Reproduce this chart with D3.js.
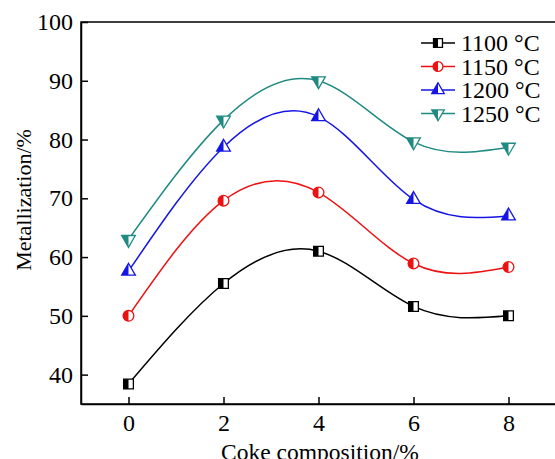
<!DOCTYPE html>
<html>
<head>
<meta charset="utf-8">
<script src="https://cdn.jsdelivr.net/npm/d3@7"></script>
<style>
  body { margin: 0; background: #fff; }
  svg text { font-family: "Liberation Serif", "Times New Roman", serif; fill: #000; }
</style>
</head>
<body>
<div id="chart"></div>
<script>
// data
var coke = [0, 2, 4, 6, 8];
var temps = ['1100 °C', '1150 °C', '1200 °C', '1250 °C'];
var met1100 = [38.4, 55.5, 61.0, 51.6, 50.0];
var met1150 = [50.0, 69.6, 71.0, 58.9, 58.3];
var met1200 = [57.6, 78.7, 83.9, 69.8, 67.0];
var met1250 = [63.0, 83.3, 90.0, 79.6, 78.7];
var xTicks = [0, 2, 4, 6, 8];
var yTicks = [40, 50, 60, 70, 80, 90, 100];

var width = 555, height = 459;
var plotLeft = 81, plotRight = 556, plotTop = 22, plotBottom = 404;

var series = [
  { name: temps[0], values: met1100, color: '#000000', shape: 'square' },
  { name: temps[1], values: met1150, color: '#ee1111', shape: 'circle' },
  { name: temps[2], values: met1200, color: '#1515e6', shape: 'triUp' },
  { name: temps[3], values: met1250, color: '#1f8a82', shape: 'triDown' }
];

var svg = d3.select('#chart').append('svg')
  .attr('width', width)
  .attr('height', height);

var x = d3.scaleLinear().domain([-1, 9]).range([plotLeft, plotRight]);
var y = d3.scaleLinear().domain([35, 100]).range([plotBottom, plotTop]);

// left-half clip for the half filled markers
svg.append('defs').append('clipPath').attr('id', 'lefthalf')
  .append('rect').attr('x', -20).attr('y', -20).attr('width', 20).attr('height', 40);

// frame
svg.append('rect')
  .attr('x', plotLeft).attr('y', plotTop)
  .attr('width', plotRight - plotLeft).attr('height', plotBottom - plotTop)
  .attr('fill', 'none').attr('stroke', '#000').attr('stroke-width', 1.5);

var xAxis = svg.append('g')
  .attr('transform', 'translate(0,' + plotBottom + ')')
  .call(d3.axisBottom(x).tickValues(xTicks).tickSizeInner(-7).tickSizeOuter(0).tickPadding(10));
var yAxis = svg.append('g')
  .attr('transform', 'translate(' + plotLeft + ',0)')
  .call(d3.axisLeft(y).tickValues(yTicks).tickSizeInner(-7).tickSizeOuter(0).tickPadding(8));

[xAxis, yAxis].forEach(function (a) {
  a.select('.domain').attr('stroke-width', 1.5);
  a.selectAll('.tick line').attr('stroke-width', 1.5);
  a.selectAll('.tick text').attr('font-size', 24).style('font-family', '"Liberation Serif", serif');
});

svg.append('text')
  .attr('x', 320).attr('y', 460)
  .attr('text-anchor', 'middle').attr('font-size', 23.5)
  .text('Coke composition/%');

svg.append('text')
  .attr('transform', 'translate(31,200) rotate(-90)')
  .attr('text-anchor', 'middle').attr('font-size', 22)
  .text('Metallization/%');

var line = d3.line()
  .x(function (d, i) { return x(coke[i]); })
  .y(function (d) { return y(d); })
  .curve(d3.curveNatural);

function shapePath(shape, s) {
  if (shape === 'square') return d3.symbol(d3.symbolSquare, s)();
  if (shape === 'circle') return d3.symbol(d3.symbolCircle, s * 0.95)();
  return d3.symbol(d3.symbolTriangle, s * 0.85)();
}

function marker(g, cx, cy, shape, color, s) {
  var m = g.append('g').attr('transform', 'translate(' + cx + ',' + cy + ')');
  var inner = m.append('g');
  if (shape === 'triDown') inner.attr('transform', 'rotate(180)');
  var p = shapePath(shape, s);
  inner.append('path').attr('d', p).attr('fill', '#fff');
  var half = inner.append('path').attr('d', p).attr('fill', color);
  if (shape === 'triDown') {
    // after rotation the left half is the local right half
    half.attr('transform', 'scale(-1,1)');
  }
  half.attr('clip-path', 'url(#lefthalf)');
  inner.append('path').attr('d', p).attr('fill', 'none').attr('stroke', color).attr('stroke-width', 1.3);
}

series.forEach(function (s) {
  svg.append('path')
    .attr('d', line(s.values))
    .attr('fill', 'none')
    .attr('stroke', s.color)
    .attr('stroke-width', 1.5);
  s.values.forEach(function (v, i) {
    marker(svg, x(coke[i]), y(v), s.shape, s.color, 95);
  });
});

// legend
var legend = svg.append('g');
series.forEach(function (s, i) {
  var ly = 43 + i * 23.5;
  legend.append('line')
    .attr('x1', 421).attr('x2', 455).attr('y1', ly).attr('y2', ly)
    .attr('stroke', s.color).attr('stroke-width', 1.5);
  marker(legend, 438, ly, s.shape, s.color, 80);
  legend.append('text')
    .attr('x', 461).attr('y', ly).attr('dy', '0.35em')
    .attr('font-size', 24)
    .text(s.name);
});
</script>
</body>
</html>
